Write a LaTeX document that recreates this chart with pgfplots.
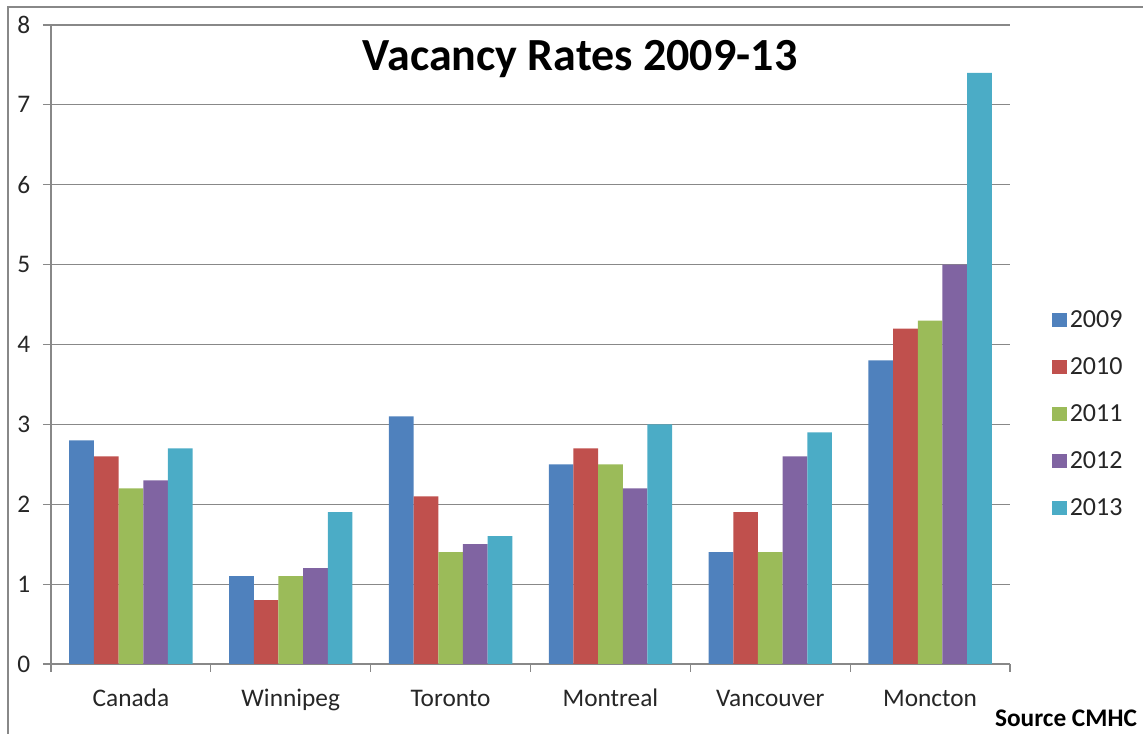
\documentclass[border=0pt]{standalone}
\usepackage{pgfplots}
\pgfplotsset{compat=1.18}
\usepackage{fontspec}
\setmainfont{Carlito}
\definecolor{c1}{HTML}{4F81BD}
\definecolor{c2}{HTML}{C0504D}
\definecolor{c3}{HTML}{9BBB59}
\definecolor{c4}{HTML}{8064A2}
\definecolor{c5}{HTML}{4BACC6}
\definecolor{gridc}{HTML}{888888}
\begin{document}
\begin{tikzpicture}
\useasboundingbox (-38.25pt,-52.5pt) rectangle (819pt,498pt);
\draw[gridc, line width=1.3pt] (-32.25pt,-52.5pt) -- (-32.25pt,492.75pt) -- (819pt,492.75pt);
\begin{axis}[
  scale only axis, width=719.25pt, height=479.25pt,
  ybar=0pt, bar width=18.5pt,
  xmin=-0.5, xmax=5.5, ymin=0, ymax=8,
  axis lines=left, axis line style={gridc,-, line width=0.8pt},
  xtick={0,...,5},
  xticklabels={Canada,Winnipeg,Toronto,Montreal,Vancouver,Moncton},
  major x tick style={draw=none},
  minor xtick={-0.5,0.5,...,5.5},
  minor x tick style={gridc, line width=0.8pt},
  minor tick length=6pt,
  ytick={0,...,8},
  major y tick style={gridc, line width=0.8pt},
  major tick length=6pt,
  tick align=outside,
  ymajorgrids, grid style={gridc, line width=0.8pt},
  tick label style={font=\fontsize{19}{22}\selectfont, text=black!85},
  xticklabel style={yshift=-9pt, text height=13.5pt, text depth=4pt},
  yticklabel style={xshift=-6pt},
  /pgf/number format/assume math mode=true,
  legend style={at={(axis description cs:1.044,0.557)}, anchor=north west, draw=none,
    font=\fontsize{19.5}{22}\selectfont, text=black!85, row sep=17pt, inner sep=0pt,
    /tikz/every even column/.append style={column sep=7pt}},
  legend cell align=left,
  legend image code/.code={\fill[#1] (0pt,-5.25pt) rectangle (11pt,5.25pt);},
]
\addplot[fill=c1, draw=none] coordinates {(0,2.8) (1,1.1) (2,3.1) (3,2.5) (4,1.4) (5,3.8)};
\addplot[fill=c2, draw=none] coordinates {(0,2.6) (1,0.8) (2,2.1) (3,2.7) (4,1.9) (5,4.2)};
\addplot[fill=c3, draw=none] coordinates {(0,2.2) (1,1.1) (2,1.4) (3,2.5) (4,1.4) (5,4.3)};
\addplot[fill=c4, draw=none] coordinates {(0,2.3) (1,1.2) (2,1.5) (3,2.2) (4,2.6) (5,5.0)};
\addplot[fill=c5, draw=none] coordinates {(0,2.7) (1,1.9) (2,1.6) (3,3.0) (4,2.9) (5,7.4)};
\legend{2009,2010,2011,2012,2013}
\node[font=\fontsize{34.5}{40}\selectfont\bfseries] at (axis description cs:0.5516,0.946) {Vacancy Rates 2009-13};
\end{axis}
\node[anchor=east, font=\fontsize{19}{22}\selectfont\bfseries] at (818pt,-40.5pt) {Source CMHC};
\end{tikzpicture}
\end{document}
